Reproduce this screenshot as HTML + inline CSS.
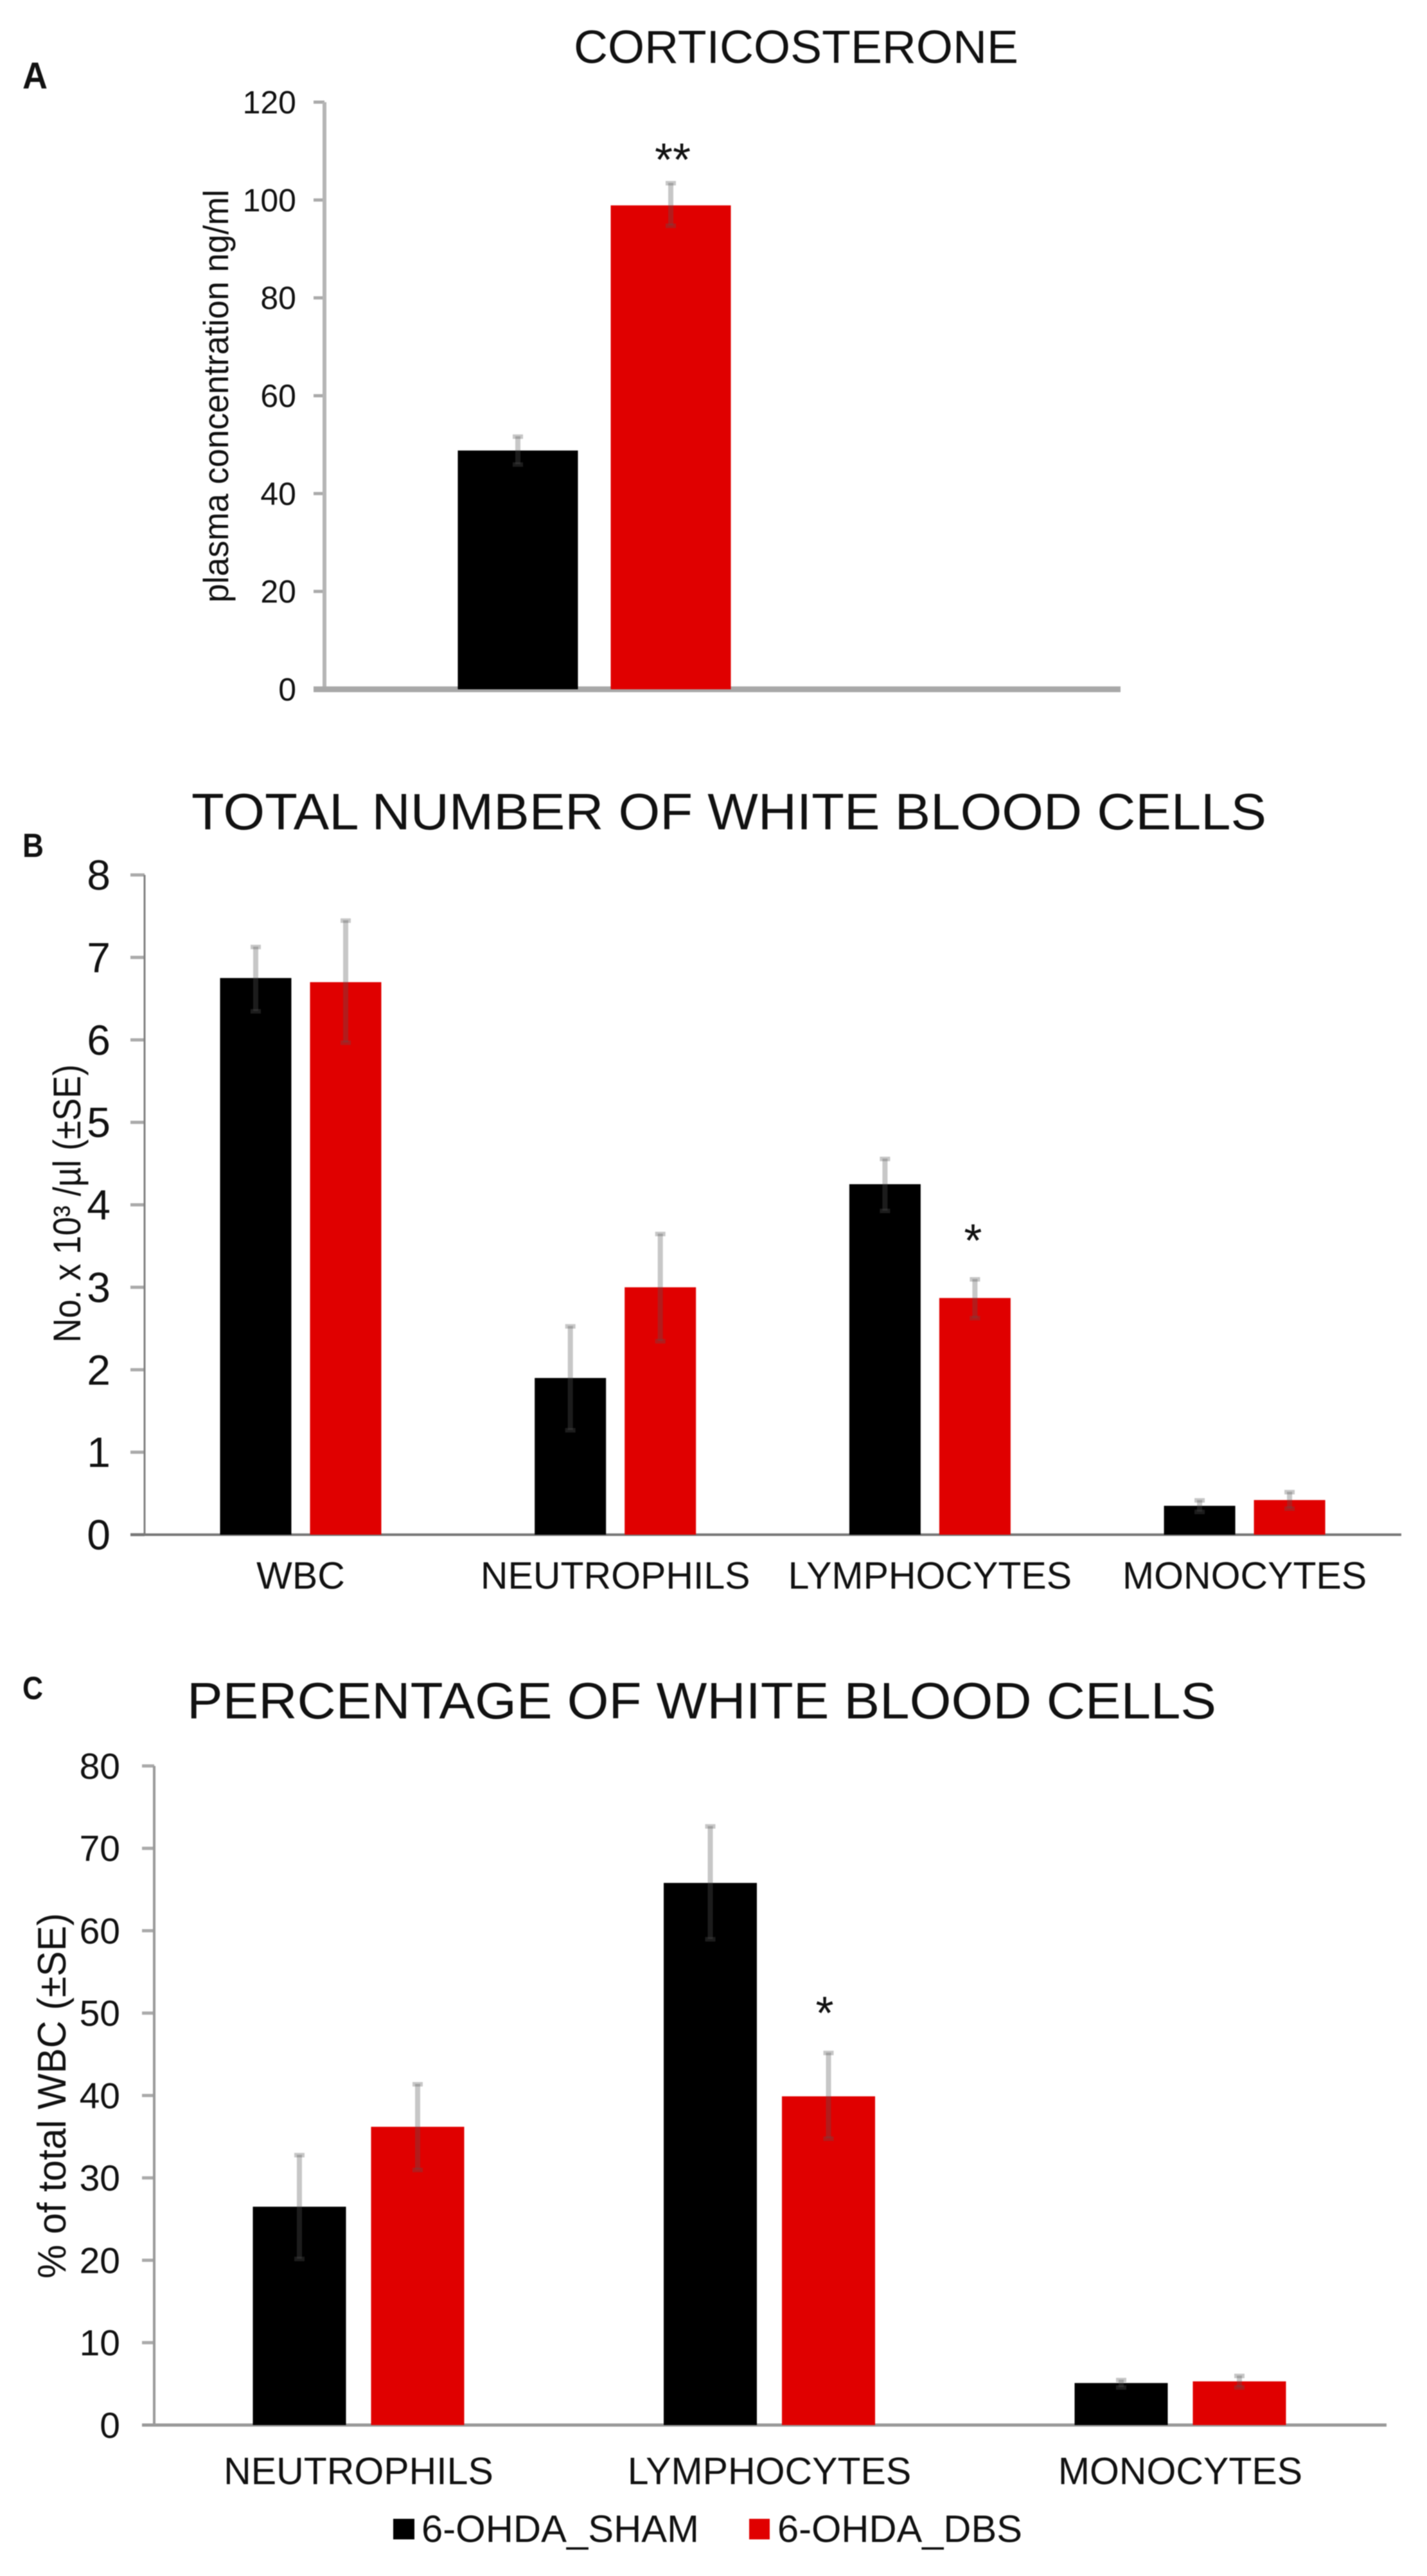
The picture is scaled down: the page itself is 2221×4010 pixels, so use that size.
<!DOCTYPE html>
<html lang="en">
<head>
<meta charset="utf-8">
<title>Corticosterone and white blood cell charts</title>
<style>
html,body{margin:0;padding:0;background:#fff;width:2221px;height:4010px;overflow:hidden}
svg{display:block;filter:blur(.7px)}
text{font-family:"Liberation Sans",Arial,sans-serif;fill:#111}
</style>
</head>
<body>
<svg id="figure" xmlns="http://www.w3.org/2000/svg" width="2221" height="4010" viewBox="0 0 2221 4010">
  <rect width="2221" height="4010" fill="#fff"/>
  <text x="35" y="138" font-size="58" font-weight="bold" textLength="39" lengthAdjust="spacingAndGlyphs">A</text>
  <text x="35" y="1334" font-size="52" font-weight="bold" textLength="33" lengthAdjust="spacingAndGlyphs">B</text>
  <text x="35" y="2645" font-size="50" font-weight="bold" textLength="32" lengthAdjust="spacingAndGlyphs">C</text>

  <text x="893" y="98" font-size="72" textLength="692" lengthAdjust="spacingAndGlyphs">CORTICOSTERONE</text>
  <text x="298" y="1291" font-size="80" textLength="1673" lengthAdjust="spacingAndGlyphs">TOTAL NUMBER OF WHITE BLOOD CELLS</text>
  <text x="291" y="2675" font-size="80" textLength="1602" lengthAdjust="spacingAndGlyphs">PERCENTAGE OF WHITE BLOOD CELLS</text>

  <text transform="translate(355,938) rotate(-90)" font-size="55" textLength="643" lengthAdjust="spacingAndGlyphs">plasma concentration ng/ml</text>
  <text transform="translate(125,2090) rotate(-90)" font-size="60" textLength="433" lengthAdjust="spacingAndGlyphs">No. x 10³ /µl (±SE)</text>
  <text transform="translate(102,3547) rotate(-90)" font-size="62" textLength="569" lengthAdjust="spacingAndGlyphs">% of total WBC (±SE)</text>

  <g id="chart-a"></g>
  <g id="chart-b"></g>
  <g id="chart-c"></g>

  <g>
    <rect x="612" y="3921" width="33" height="32" fill="#000"/>
    <text x="656" y="3957" font-size="59" textLength="432" lengthAdjust="spacingAndGlyphs">6-OHDA_SHAM</text>
    <rect x="1166" y="3921" width="32" height="32" fill="#e00000"/>
    <text x="1210" y="3957" font-size="59" textLength="381" lengthAdjust="spacingAndGlyphs">6-OHDA_DBS</text>
  </g>
</svg>
<script>
// Chart A data
const aCategories = [""];
const aSham = [48.8];
const aDbs = [98.9];
const aShamHigh = [51.7];
const aShamLow = [46];
const aDbsHigh = [103.5];
const aDbsLow = [94.8];
const aTicks = [0, 20, 40, 60, 80, 100, 120];
const aStars = ["**"];

// Chart B data
const bCategories = ["WBC", "NEUTROPHILS", "LYMPHOCYTES", "MONOCYTES"];
const bSham = [6.75, 1.9, 4.25, 0.35];
const bDbs = [6.7, 3.0, 2.87, 0.42];
const bShamHigh = [7.13, 2.53, 4.56, 0.42];
const bShamLow = [6.35, 1.27, 3.93, 0.28];
const bDbsHigh = [7.45, 3.65, 3.1, 0.52];
const bDbsLow = [5.97, 2.35, 2.63, 0.32];
const bTicks = [0, 1, 2, 3, 4, 5, 6, 7, 8];
const bStars = ["", "", "*", ""];

// Chart C data
const cCategories = ["NEUTROPHILS", "LYMPHOCYTES", "MONOCYTES"];
const cSham = [26.5, 65.8, 5.1];
const cDbs = [36.2, 39.9, 5.3];
const cShamHigh = [32.8, 72.7, 5.5];
const cShamLow = [20.2, 59, 4.6];
const cDbsHigh = [41.4, 45.2, 6];
const cDbsLow = [31, 34.8, 4.6];
const cTicks = [0, 10, 20, 30, 40, 50, 60, 70, 80];
const cStars = ["", "*", ""];

const SVGNS = "http://www.w3.org/2000/svg";
function mk(parent, tag, attrs) {
  const el = document.createElementNS(SVGNS, tag);
  for (const k in attrs) el.setAttribute(k, attrs[k]);
  parent.appendChild(el);
  return el;
}

function drawChart(rootId, d, L) {
  const root = document.getElementById(rootId);
  const maxV = d.ticks[d.ticks.length - 1];
  const yOf = v => L.y0 - (v / maxV) * (L.y0 - L.yTop);
  const xOf = i => L.start + i * L.band;

  d.ticks.forEach(t => {
    const tick = mk(root, "rect", {x: L.axisX - L.tickLen, y: yOf(t) - L.tickW / 2, width: L.tickLen, height: L.tickW, fill: L.tickColor});
    
    
    const label = mk(root, "text", {x: L.tickRight, y: yOf(t) + L.tickSize * 0.35, "font-size": L.tickSize, "text-anchor": "end"});
    label.textContent = t;
    
    
  });

  const yAxis = mk(root, "rect", {x: L.axisX - L.yAxisW / 2, y: L.yTop, width: L.yAxisW, height: L.y0 - L.yTop, fill: L.yAxisColor});
  
  

  const xAxis = mk(root, "rect", {x: L.axisX - L.tickLen, y: L.y0 - L.xAxisW / 2, width: L.axisEnd - L.axisX + L.tickLen, height: L.xAxisW, fill: L.xAxisColor});
  
  

  d.categories.forEach((cat, i) => {
    const groups = [
      {val: d.sham[i], hi: d.shamHigh[i], lo: d.shamLow[i], cx: xOf(i) - L.offset, fill: "#000"},
      {val: d.dbs[i], hi: d.dbsHigh[i], lo: d.dbsLow[i], cx: xOf(i) + L.offset, fill: "#e00000"}
    ];
    groups.forEach(g => {
      const bar = mk(root, "rect", {x: g.cx - L.barW / 2, y: yOf(g.val), width: L.barW, height: L.y0 - yOf(g.val), fill: g.fill});
      
      
      const err = mk(root, "rect", {x: g.cx - 4, y: yOf(g.hi), width: 8, height: yOf(g.lo) - yOf(g.hi), fill: "#565656", "fill-opacity": "0.33"});
      
      
      const capTop = mk(root, "rect", {x: g.cx - 8, y: yOf(g.hi) - 3, width: 16, height: 7, fill: "#565656", "fill-opacity": "0.33"});
      
      
      const capBottom = mk(root, "rect", {x: g.cx - 8, y: yOf(g.lo) - 3, width: 16, height: 7, fill: "#565656", "fill-opacity": "0.33"});
      
      
    });
    if (cat) {
      const catLabel = mk(root, "text", {x: xOf(i), y: L.catY, "font-size": L.catSize, "text-anchor": "middle"});
      catLabel.textContent = cat;
      
      
    }
    if (d.stars[i]) {
      const star = mk(root, "text", {x: xOf(i) + L.offset + L.starDx, y: yOf(d.dbsHigh[i]) - L.starGap, "font-size": 72, "text-anchor": "middle"});
      star.textContent = d.stars[i];
      
      
    }
  });
}

drawChart("chart-a",
  {categories: aCategories, sham: aSham, dbs: aDbs, shamHigh: aShamHigh, shamLow: aShamLow, dbsHigh: aDbsHigh, dbsLow: aDbsLow, ticks: aTicks, stars: aStars},
  {y0: 1073, yTop: 159, axisX: 505, axisEnd: 1744, start: 925, band: 0, offset: 119, barW: 187, tickLen: 17, tickW: 5, tickColor: "#aaa",
   tickRight: 461, tickSize: 50, yAxisW: 6, yAxisColor: "#b5b5b5", xAxisW: 9, xAxisColor: "#a8a8a8", catY: 0, catSize: 0, starDx: 3, starGap: 11});

drawChart("chart-b",
  {categories: bCategories, sham: bSham, dbs: bDbs, shamHigh: bShamHigh, shamLow: bShamLow, dbsHigh: bDbsHigh, dbsLow: bDbsLow, ticks: bTicks, stars: bStars},
  {y0: 2389, yTop: 1362, axisX: 225, axisEnd: 2181, start: 468, band: 489.7, offset: 70, barW: 111, tickLen: 22, tickW: 5, tickColor: "#aaa",
   tickRight: 172, tickSize: 66, yAxisW: 3, yAxisColor: "#808080", xAxisW: 4, xAxisColor: "#777", catY: 2473, catSize: 59, starDx: -3, starGap: 35});

drawChart("chart-c",
  {categories: cCategories, sham: cSham, dbs: cDbs, shamHigh: cShamHigh, shamLow: cShamLow, dbsHigh: cDbsHigh, dbsLow: cDbsLow, ticks: cTicks, stars: cStars},
  {y0: 3775, yTop: 2749, axisX: 240, axisEnd: 2158, start: 558, band: 639.5, offset: 92, barW: 145, tickLen: 19, tickW: 5, tickColor: "#aaa",
   tickRight: 187, tickSize: 57, yAxisW: 4, yAxisColor: "#999", xAxisW: 5, xAxisColor: "#999", catY: 3867, catSize: 59, starDx: -6, starGap: 37});
</script>
</body>
</html>
